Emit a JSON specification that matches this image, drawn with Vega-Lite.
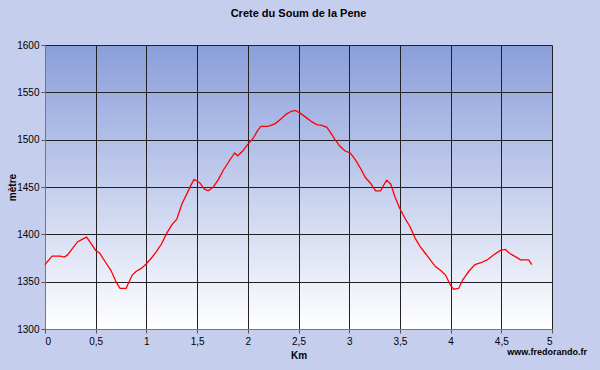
{
  "$schema": "https://vega.github.io/schema/vega-lite/v6.json",
  "width": 507,
  "height": 284,
  "autosize": "none",
  "padding": {"left": 45, "top": 45, "right": 48, "bottom": 41},
  "background": "#c6ceee",
  "title": {"text": "Crete du Soum de la Pene", "font": "Liberation Sans", "fontSize": 11, "fontWeight": "bold", "color": "#000000", "offset": 21, "anchor": "middle"},
  "config": {
    "view": {"stroke": null, "fill": {"gradient": "linear", "x1": 0, "y1": 0, "x2": 0, "y2": 1, "stops": [{"offset": 0, "color": "#8a9edb"}, {"offset": 1, "color": "#ffffff"}]}},
    "axis": {"labelFont": "Liberation Sans", "labelFontSize": 10, "labelColor": "#000000", "titleFont": "Liberation Sans", "titleFontSize": 10, "titleFontWeight": "bold", "titleColor": "#000000", "gridColor": "#222222", "gridOpacity": 1, "gridWidth": 1, "domainColor": "#777777", "tickColor": "#555555", "tickSize": 4}
  },
  "data": {"values": [
    {"km": 0, "alt": 1368}, {"km": 0.03, "alt": 1372}, {"km": 0.07, "alt": 1377}, {"km": 0.15, "alt": 1377},
    {"km": 0.19, "alt": 1376}, {"km": 0.22, "alt": 1378}, {"km": 0.27, "alt": 1385}, {"km": 0.32, "alt": 1392},
    {"km": 0.37, "alt": 1395}, {"km": 0.41, "alt": 1397}, {"km": 0.45, "alt": 1391}, {"km": 0.5, "alt": 1383},
    {"km": 0.54, "alt": 1380}, {"km": 0.6, "alt": 1370}, {"km": 0.65, "alt": 1362}, {"km": 0.7, "alt": 1350},
    {"km": 0.74, "alt": 1343}, {"km": 0.8, "alt": 1343}, {"km": 0.83, "alt": 1350}, {"km": 0.86, "alt": 1357},
    {"km": 0.9, "alt": 1361}, {"km": 0.95, "alt": 1364}, {"km": 1.0, "alt": 1369}, {"km": 1.05, "alt": 1375},
    {"km": 1.1, "alt": 1382}, {"km": 1.15, "alt": 1390}, {"km": 1.2, "alt": 1401}, {"km": 1.25, "alt": 1410},
    {"km": 1.3, "alt": 1416}, {"km": 1.35, "alt": 1432}, {"km": 1.4, "alt": 1443}, {"km": 1.44, "alt": 1452},
    {"km": 1.47, "alt": 1458}, {"km": 1.5, "alt": 1456}, {"km": 1.53, "alt": 1454}, {"km": 1.57, "alt": 1448},
    {"km": 1.61, "alt": 1446}, {"km": 1.66, "alt": 1450}, {"km": 1.71, "alt": 1458}, {"km": 1.76, "alt": 1468},
    {"km": 1.82, "alt": 1478}, {"km": 1.87, "alt": 1486}, {"km": 1.9, "alt": 1483}, {"km": 1.95, "alt": 1488},
    {"km": 2.0, "alt": 1495}, {"km": 2.05, "alt": 1501}, {"km": 2.1, "alt": 1510}, {"km": 2.13, "alt": 1514},
    {"km": 2.2, "alt": 1514}, {"km": 2.27, "alt": 1517}, {"km": 2.33, "alt": 1522}, {"km": 2.38, "alt": 1527},
    {"km": 2.43, "alt": 1530}, {"km": 2.47, "alt": 1531}, {"km": 2.53, "alt": 1527}, {"km": 2.58, "alt": 1523},
    {"km": 2.63, "alt": 1519}, {"km": 2.68, "alt": 1516}, {"km": 2.73, "alt": 1515}, {"km": 2.78, "alt": 1513},
    {"km": 2.82, "alt": 1507}, {"km": 2.86, "alt": 1500}, {"km": 2.91, "alt": 1493}, {"km": 2.96, "alt": 1488},
    {"km": 3.01, "alt": 1486}, {"km": 3.06, "alt": 1479}, {"km": 3.11, "alt": 1470}, {"km": 3.16, "alt": 1460},
    {"km": 3.21, "alt": 1454}, {"km": 3.26, "alt": 1446}, {"km": 3.31, "alt": 1446}, {"km": 3.34, "alt": 1452},
    {"km": 3.37, "alt": 1457}, {"km": 3.41, "alt": 1453}, {"km": 3.45, "alt": 1440}, {"km": 3.5, "alt": 1427},
    {"km": 3.55, "alt": 1417}, {"km": 3.6, "alt": 1408}, {"km": 3.65, "alt": 1396}, {"km": 3.7, "alt": 1387},
    {"km": 3.75, "alt": 1380}, {"km": 3.8, "alt": 1373}, {"km": 3.85, "alt": 1366}, {"km": 3.9, "alt": 1362},
    {"km": 3.95, "alt": 1357}, {"km": 4.0, "alt": 1346}, {"km": 4.03, "alt": 1342}, {"km": 4.08, "alt": 1343},
    {"km": 4.12, "alt": 1352}, {"km": 4.18, "alt": 1361}, {"km": 4.24, "alt": 1368}, {"km": 4.3, "alt": 1370},
    {"km": 4.36, "alt": 1373}, {"km": 4.42, "alt": 1378}, {"km": 4.49, "alt": 1383}, {"km": 4.54, "alt": 1384},
    {"km": 4.58, "alt": 1380}, {"km": 4.63, "alt": 1377}, {"km": 4.69, "alt": 1373}, {"km": 4.77, "alt": 1373},
    {"km": 4.8, "alt": 1368}
  ]},
  "layer": [
    {
      "mark": {"type": "line", "color": "#ff0000", "strokeWidth": 1.3},
      "encoding": {
        "x": {"field": "km", "type": "quantitative", "scale": {"domain": [0, 5], "nice": false}, "axis": {"title": "Km", "values": [0, 0.5, 1, 1.5, 2, 2.5, 3, 3.5, 4, 4.5, 5], "labelExpr": "replace(toString(datum.value), '.', ',')", "titlePadding": 4, "labelPadding": 3}},
        "y": {"field": "alt", "type": "quantitative", "scale": {"domain": [1300, 1600], "nice": false, "zero": false}, "axis": {"title": "mètre", "format": "d", "values": [1300, 1350, 1400, 1450, 1500, 1550, 1600], "titlePadding": -1, "labelPadding": 2}}
      }
    },
    {
      "data": {"values": [{"site": "www.fredorando.fr", "km": 5, "alt": 1300}]},
      "mark": {"type": "text", "font": "Liberation Sans", "fontSize": 9, "fontWeight": "bold", "align": "right", "baseline": "middle", "dx": 35, "dy": 23, "color": "#000000"},
      "encoding": {
        "x": {"field": "km", "type": "quantitative"},
        "y": {"field": "alt", "type": "quantitative"},
        "text": {"field": "site"}
      }
    }
  ]
}
